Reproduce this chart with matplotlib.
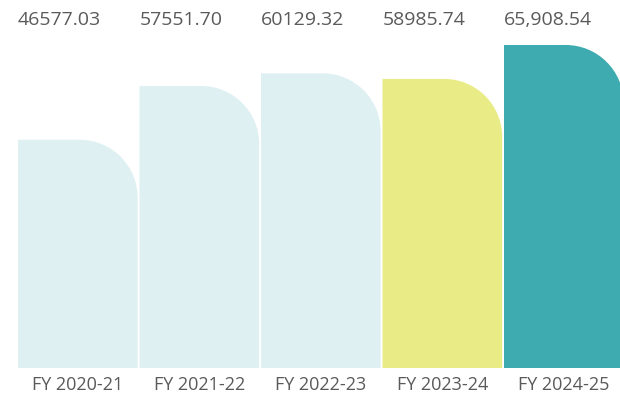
import matplotlib
matplotlib.use("Agg")
import matplotlib.pyplot as plt
from matplotlib.path import Path
from matplotlib.patches import PathPatch
import matplotlib.transforms as mtransforms

categories = ["FY 2020-21", "FY 2021-22", "FY 2022-23", "FY 2023-24", "FY 2024-25"]
values = [46577.03, 57551.70, 60129.32, 58985.74, 65908.54]
value_labels = ["46577.03", "57551.70", "60129.32", "58985.74", "65,908.54"]
colors = ["#DFF0F3", "#DFF0F3", "#DFF0F3", "#E9EC86", "#3EABB0"]

W, H = 620, 400
fig = plt.figure(figsize=(W / 100, H / 100), dpi=100)
ax = fig.add_axes([0, 32 / H, 1, 368 / H])

pitch_px = 121.5
width = 0.985
x_left = -width / 2 - 18 / pitch_px
x_right = -width / 2 + (W - 18) / pitch_px
ax.set_xlim(x_left, x_right)
ymax = max(values) * 368 / 323
ax.set_ylim(0, ymax)

radius_px = 58
rx = radius_px / pitch_px
ry = radius_px * ymax / 368
k = 0.5523

text_color = "#5a5a5a"
for i, (v, c) in enumerate(zip(values, colors)):
    l = i - width / 2
    r = i + width / 2
    verts = [
        (l, 0), (l, v), (r - rx, v),
        (r - rx + k * rx, v), (r, v - ry + k * ry), (r, v - ry),
        (r, 0), (l, 0),
    ]
    codes = [Path.MOVETO, Path.LINETO, Path.LINETO,
             Path.CURVE4, Path.CURVE4, Path.CURVE4,
             Path.LINETO, Path.CLOSEPOLY]
    ax.add_patch(PathPatch(Path(verts, codes), facecolor=c, edgecolor="none", clip_on=False))
    trans = mtransforms.blended_transform_factory(ax.transData, ax.transAxes)
    ax.text(l, (H - 20 - 32) / 368, value_labels[i], transform=trans,
            ha="left", va="center", fontsize=14, color=text_color, family="Open Sans")

ax.set_xticks(range(len(categories)))
ax.set_xticklabels(categories, fontsize=13, color=text_color, family="Open Sans")
ax.tick_params(axis="x", length=0, pad=6)
ax.set_yticks([])
for s in ax.spines.values():
    s.set_visible(False)

fig.savefig("out.png", dpi=100)
